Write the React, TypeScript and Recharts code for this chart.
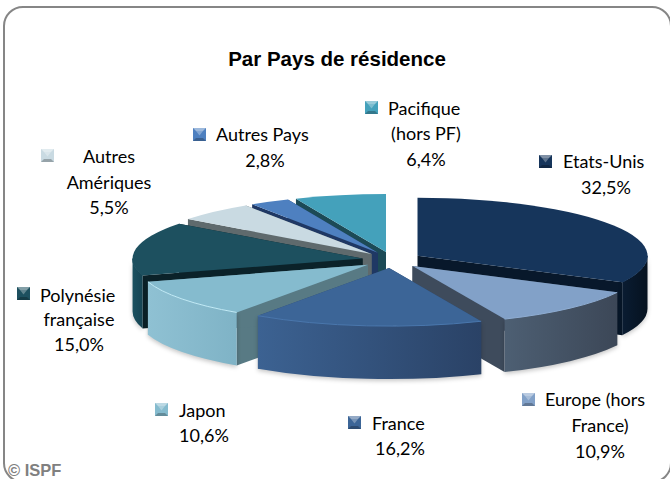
import React from "react";
import { PieChart, Pie } from "recharts";

const names = [
  "Etats-Unis",
  "Europe (hors France)",
  "France",
  "Japon",
  "Polynésie française",
  "Autres Amériques",
  "Autres Pays",
  "Pacifique (hors PF)",
];
const shares = [32.5, 10.9, 16.2, 10.6, 15.0, 5.5, 2.8, 6.4];

const rows = names.map((name, i) => ({ name, value: shares[i] }));

// painter's order, back slices first
const drawOrder = [
  "Pacifique (hors PF)",
  "Autres Pays",
  "Autres Amériques",
  "Polynésie française",
  "Japon",
  "Etats-Unis",
  "Europe (hors France)",
  "France",
];

const WIDTH = 670;
const HEIGHT = 479;
const CX = 392;
const CY = 260;
const RADIUS = 230;
const SQUASH = 58 / 230;
const DEPTH = 53;
const EXPLODE = 0.13;
const KEY_SIZE = 13;

const LABEL_FONT = "Lato, 'Open Sans', sans-serif";

const sliceStyles: Record<string, any> = {
  "Etats-Unis": { top: "#16355b", side: "#08182b", wall: ["#0a1c32", "#06121f"], rim: "#16355b" },
  "Europe (hors France)": { top: "#82a1c8", side: "#3e4b5c", wall: ["#4d5f73", "#3c4757"], rim: "#8fadd2" },
  France: { top: "#3c6597", side: "#2d4a70", wall: ["#3c6292", "#2a4266"], rim: "#4a77ad" },
  Japon: { top: "#85bbce", side: "#587a84", wall: ["#8fc1d3", "#7fb3c6"], rim: "#c3ecf8" },
  "Polynésie française": { top: "#1d505f", side: "#0b2229", wall: ["#1b5160", "#164453"], rim: "#1d505f" },
  "Autres Amériques": { top: "#c9dae2", side: "#5f6a6d", wall: ["#a7b6bd", "#8c9aa0"], rim: "#d8e6ec" },
  "Autres Pays": { top: "#4e80c0", side: "#1f3864", wall: ["#3f6aa0", "#35598a"], rim: "#4e80c0" },
  "Pacifique (hors PF)": { top: "#44a1bb", side: "#1c4a56", wall: ["#3a8aa0", "#2f7488"], rim: "#44a1bb" },
};

const labelLayout: Record<string, any> = {
  "Etats-Unis": {
    key: [539, 155],
    lines: [
      ["Etats-Unis", 563, 168, "start"],
      ["%", 606, 194, "middle"],
    ],
  },
  "Europe (hors France)": {
    key: [522, 393],
    lines: [
      ["Europe (hors", 545, 406, "start"],
      ["France)", 600, 432, "middle"],
      ["%", 600, 458, "middle"],
    ],
  },
  France: {
    key: [348, 416],
    lines: [
      ["France", 372, 430, "start"],
      ["%", 400, 455, "middle"],
    ],
  },
  Japon: {
    key: [155, 403],
    lines: [
      ["Japon", 179, 417, "start"],
      ["%", 179, 442, "start"],
    ],
  },
  "Polynésie française": {
    key: [17, 287],
    lines: [
      ["Polynésie", 40, 302, "start"],
      ["française", 79, 326, "middle"],
      ["%", 79, 351, "middle"],
    ],
  },
  "Autres Amériques": {
    key: [41, 149],
    lines: [
      ["Autres", 109, 163, "middle"],
      ["Amériques", 109, 189, "middle"],
      ["%", 109, 214, "middle"],
    ],
  },
  "Autres Pays": {
    key: [193, 128],
    lines: [
      ["Autres Pays", 216, 141, "start"],
      ["%", 265, 167, "middle"],
    ],
  },
  "Pacifique (hors PF)": {
    key: [365, 101],
    lines: [
      ["Pacifique", 388, 115, "start"],
      ["(hors PF)", 426, 140, "middle"],
      ["%", 426, 166, "middle"],
    ],
  },
};

const gradId = (name: string) => "wall" + names.indexOf(name);

// clock angle: 0 at the top, growing clockwise
const rimPoint = (ox: number, oy: number, r: number, clock: number) => {
  const a = (clock * Math.PI) / 180;
  return [ox + r * Math.sin(a), oy - r * SQUASH * Math.cos(a)];
};

const makeSlice = (only: string) => (props: any) => {
  const name = props.name ?? props.payload?.name;
  if (name !== only) return <g />;
  const { cx, cy, outerRadius: r } = props;
  const st = sliceStyles[name];
  const c1 = 90 - props.startAngle;
  const c2 = 90 - props.endAngle;
  const mid = (((c1 + c2) / 2) * Math.PI) / 180;
  const ox = cx + EXPLODE * r * Math.sin(mid);
  const oy = cy - EXPLODE * 1.08 * r * SQUASH * Math.cos(mid);
  const [x1, y1] = rimPoint(ox, oy, r, c1);
  const [x2, y2] = rimPoint(ox, oy, r, c2);
  const ry = r * SQUASH;
  const large = c2 - c1 > 180 ? 1 : 0;

  const edgeWall = (x: number, y: number) =>
    `M${ox},${oy} L${x},${y} L${x},${y + DEPTH} L${ox},${oy + DEPTH} Z`;

  // only the front half of the rim shows a wall
  const w1 = Math.max(c1, 90);
  const w2 = Math.min(c2, 270);
  let outer = null;
  let rim = null;
  if (w2 > w1) {
    const [a1, b1] = rimPoint(ox, oy, r, w1);
    const [a2, b2] = rimPoint(ox, oy, r, w2);
    outer = (
      <path
        d={`M${a1},${b1} A${r},${ry} 0 0 1 ${a2},${b2} L${a2},${b2 + DEPTH} A${r},${ry} 0 0 0 ${a1},${b1 + DEPTH} Z`}
        fill={`url(#${gradId(name)})`}
        style={{ filter: "drop-shadow(0px 2px 2px rgba(0,0,0,0.22))" }}
      />
    );
    rim = (
      <path
        d={`M${a1},${b1} A${r},${ry} 0 0 1 ${a2},${b2}`}
        fill="none"
        stroke={st.rim}
        strokeWidth={1}
      />
    );
  }
  const grad = w2 > w1 ? rimPoint(ox, oy, r, w2)[0] : x2;
  const gradStart = w2 > w1 ? rimPoint(ox, oy, r, w1)[0] : x1;

  return (
    <g>
      <defs>
        <linearGradient
          id={gradId(name)}
          gradientUnits="userSpaceOnUse"
          x1={Math.min(grad, gradStart)}
          x2={Math.max(grad, gradStart)}
          y1={0}
          y2={0}
        >
          <stop offset="0%" stopColor={st.wall[0]} />
          <stop offset="100%" stopColor={st.wall[1]} />
        </linearGradient>
      </defs>
      <path d={edgeWall(x1, y1)} fill={st.side} />
      <path d={edgeWall(x2, y2)} fill={st.side} />
      {outer}
      <path
        d={`M${ox},${oy} L${x1},${y1} A${r},${ry} 0 ${large} 1 ${x2},${y2} Z`}
        fill={st.top}
      />
      {rim}
    </g>
  );
};

const renderLabel = (props: any) => {
  const name = props.name ?? props.payload?.name;
  const value = props.value ?? props.payload?.value;
  const layout = labelLayout[name];
  const st = sliceStyles[name];
  const [kx, ky] = layout.key;
  const s = KEY_SIZE;
  return (
    <g key={name}>
      <rect x={kx} y={ky} width={s} height={s} fill={st.top} />
      <path d={`M${kx},${ky} h${s} l-3,3 h${-(s - 6)} Z`} fill="#ffffff" fillOpacity={0.45} />
      <path d={`M${kx},${ky + s} h${s} l-3,-3 h${-(s - 6)} Z`} fill="#000000" fillOpacity={0.25} />
      <path d={`M${kx + 3},${ky + 3} h${s - 6} L${kx + s / 2},${ky + s / 2 + 1} Z`} fill="#ffffff" fillOpacity={0.3} />
      {layout.lines.map(([text, x, y, anchor]: any) => (
        <text
          key={text}
          x={x}
          y={y}
          textAnchor={anchor}
          fontFamily={LABEL_FONT}
          fontSize={18}
          fill="#000000"
        >
          {text === "%" ? value.toFixed(1).replace(".", ",") + "%" : text}
        </text>
      ))}
    </g>
  );
};

export default function App() {
  return (
    <div
      style={{
        position: "absolute",
        left: 0,
        top: 0,
        width: WIDTH,
        height: HEIGHT,
        background: "#fff",
        overflow: "hidden",
      }}
    >
      <div
        style={{
          position: "absolute",
          left: 3,
          top: 6,
          width: 665,
          height: 473,
          border: "2px solid #868686",
          borderRadius: 20,
        }}
      />
      <div style={{ position: "absolute", left: 0, top: 0 }}>
        <PieChart width={WIDTH} height={HEIGHT} margin={{ top: 0, right: 0, bottom: 0, left: 0 }}>
          <text
            x={337}
            y={66}
            textAnchor="middle"
            fontFamily="'Liberation Sans', Arial, sans-serif"
            fontWeight="bold"
            fontSize={20.5}
            fill="#000"
          >
            Par Pays de résidence
          </text>
          {drawOrder.map((slice, i) => (
            <Pie
              key={slice}
              data={rows}
              dataKey="value"
              nameKey="name"
              cx={CX}
              cy={CY}
              outerRadius={RADIUS}
              startAngle={90}
              endAngle={-270}
              stroke="none"
              isAnimationActive={false}
              shape={makeSlice(slice)}
              label={i === drawOrder.length - 1 ? renderLabel : false}
              labelLine={false}
              legendType="none"
            />
          ))}
        </PieChart>
      </div>
      <div
        style={{
          position: "absolute",
          left: 8,
          top: 461,
          fontFamily: "'Liberation Sans', Arial, sans-serif",
          fontWeight: "bold",
          fontSize: 16.5,
          lineHeight: "18px",
          color: "#808080",
        }}
      >
        © ISPF
      </div>
    </div>
  );
}
